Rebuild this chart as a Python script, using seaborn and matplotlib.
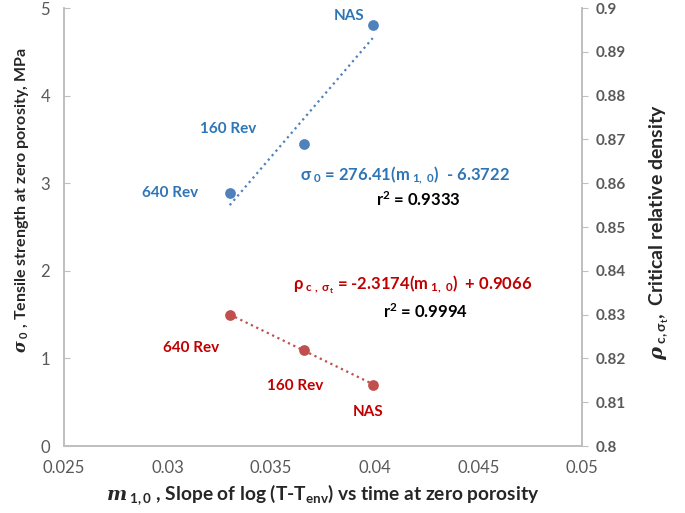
import seaborn as sns
import matplotlib.pyplot as plt
import pandas as pd
import numpy as np

sns.set_style("white")
plt.rcParams['font.family'] = ['Lato', 'DejaVu Sans']
plt.rcParams['mathtext.fontset'] = 'custom'
plt.rcParams['mathtext.rm'] = 'Lato'
plt.rcParams['mathtext.it'] = 'Lato:italic'
plt.rcParams['mathtext.bf'] = 'Lato:bold'
plt.rcParams['mathtext.bfit'] = 'DejaVu Serif:italic:bold'
plt.rcParams['mathtext.default'] = 'regular'

# data
samples = ["640 Rev", "160 Rev", "NAS"]
m10 = [0.0330, 0.0366, 0.0399]
sigma0 = [2.89, 3.45, 4.81]
rho_c = [0.8299, 0.8220, 0.8140]

x_ticks = [0.025, 0.03, 0.035, 0.04, 0.045, 0.05]
x_ticklabels = ["0.025", "0.03", "0.035", "0.04", "0.045", "0.05"]
left_ticks = [0, 1, 2, 3, 4, 5]
right_ticks = [0.8, 0.81, 0.82, 0.83, 0.84, 0.85, 0.86, 0.87, 0.88, 0.89, 0.9]

df = pd.DataFrame({"sample": samples, "m": m10, "sigma0": sigma0, "rho": rho_c})

blue_dot = "#4F81BD"
blue_txt = "#2E75B6"
red_dot = "#C0504D"
red_txt = "#C00000"
grey = "#BFBFBF"

fig = plt.figure(figsize=(6.85, 5.13), dpi=100)
ax = fig.add_axes([0.0934, 0.1306, 0.7562, 0.8538])
ax2 = ax.twinx()

sns.regplot(data=df, x="m", y="sigma0", ax=ax, ci=None, color=blue_dot,
            scatter_kws=dict(s=45, alpha=1, zorder=3),
            line_kws=dict(ls=":", lw=1.6, color=blue_dot))
sns.regplot(data=df, x="m", y="rho", ax=ax2, ci=None, color=red_dot,
            scatter_kws=dict(s=45, alpha=1, zorder=3),
            line_kws=dict(ls=":", lw=1.6, color=red_dot))

ax.set_xlim(0.025, 0.05)
ax.set_ylim(0, 5)
ax2.set_ylim(0.8, 0.9)
ax.set_xticks(x_ticks)
ax.set_xticklabels(x_ticklabels)
ax.set_yticks(left_ticks)
ax.set_yticklabels([str(t) for t in left_ticks])
ax2.set_yticks(right_ticks)
ax2.set_yticklabels([f"{t:g}" for t in right_ticks])

for a in (ax, ax2):
    a.spines["top"].set_visible(False)
    for s in ("left", "right", "bottom"):
        a.spines[s].set_color(grey)
        a.spines[s].set_linewidth(1.2)
    a.grid(False)
ax.tick_params(axis="both", direction="in", length=4, color=grey,
               labelsize=12, labelcolor="#595959")
ax.tick_params(axis="y", pad=10)
ax.tick_params(axis="x", pad=10)
ax2.tick_params(axis="y", direction="out", length=4, color=grey,
                labelsize=11, labelcolor="#595959", pad=6)
ax2.tick_params(axis="x", length=0)
for lbl in ax2.get_yticklabels():
    lbl.set_fontweight("bold")

ax.set_xlabel("")
ax.set_ylabel("")
ax2.set_ylabel("")

# axis titles
fig.text(0.032, 0.61, r"$\mathbfit{\sigma}$$_{\ 0}$ , Tensile strength at zero porosity, MPa",
         rotation=90, ha="center", va="center", fontsize=11.5, fontweight="bold")
fig.text(0.963, 0.548, r"$\mathbfit{\rho}$$_{\ c,\sigma_t},$ Critical relative density",
         rotation=90, ha="center", va="center", fontsize=14, fontweight="bold")
fig.text(0.471, 0.035, r"$\mathbfit{m}$$_{\ 1,0}$ , Slope of log (T-T$_{env}$) vs time at zero porosity",
         ha="center", va="center", fontsize=13.8, fontweight="bold")

# point labels (offsets in points)
blue_off = [(-43, 0), (-55, 11), (-17, 6)]
red_off = [(-28, -24), (-6.5, -26), (-3, -20)]
for i, row in df.iterrows():
    ax.annotate(row["sample"], (row["m"], row["sigma0"]), xytext=blue_off[i],
                textcoords="offset points", ha="center", va="center",
                color=blue_txt, fontsize=11, fontweight="bold")
    ax2.annotate(row["sample"], (row["m"], row["rho"]), xytext=red_off[i],
                 textcoords="offset points", ha="center", va="center",
                 color=red_txt, fontsize=11, fontweight="bold")

# trendline equations
ax.text(0.0364, 3.09, r"$\sigma_{\ 0}$ = 276.41(m$_{\ 1,\ 0}$)  - 6.3722",
        ha="left", va="center", color=blue_txt, fontsize=12, fontweight="bold")
ax.text(0.0421, 2.81, r"r$^2$ = 0.9333", ha="center", va="center",
        color="black", fontsize=12, fontweight="bold")
ax.text(0.03605, 1.84, r"$\rho_{\ c\ ,\ \sigma_t}$ = -2.3174(m$_{\ 1,\ 0}$)  + 0.9066",
        ha="left", va="center", color=red_txt, fontsize=12, fontweight="bold")
ax.text(0.04247, 1.53, r"r$^2$ = 0.9994", ha="center", va="center",
        color="black", fontsize=12, fontweight="bold")

fig.savefig("out.png", dpi=100)
